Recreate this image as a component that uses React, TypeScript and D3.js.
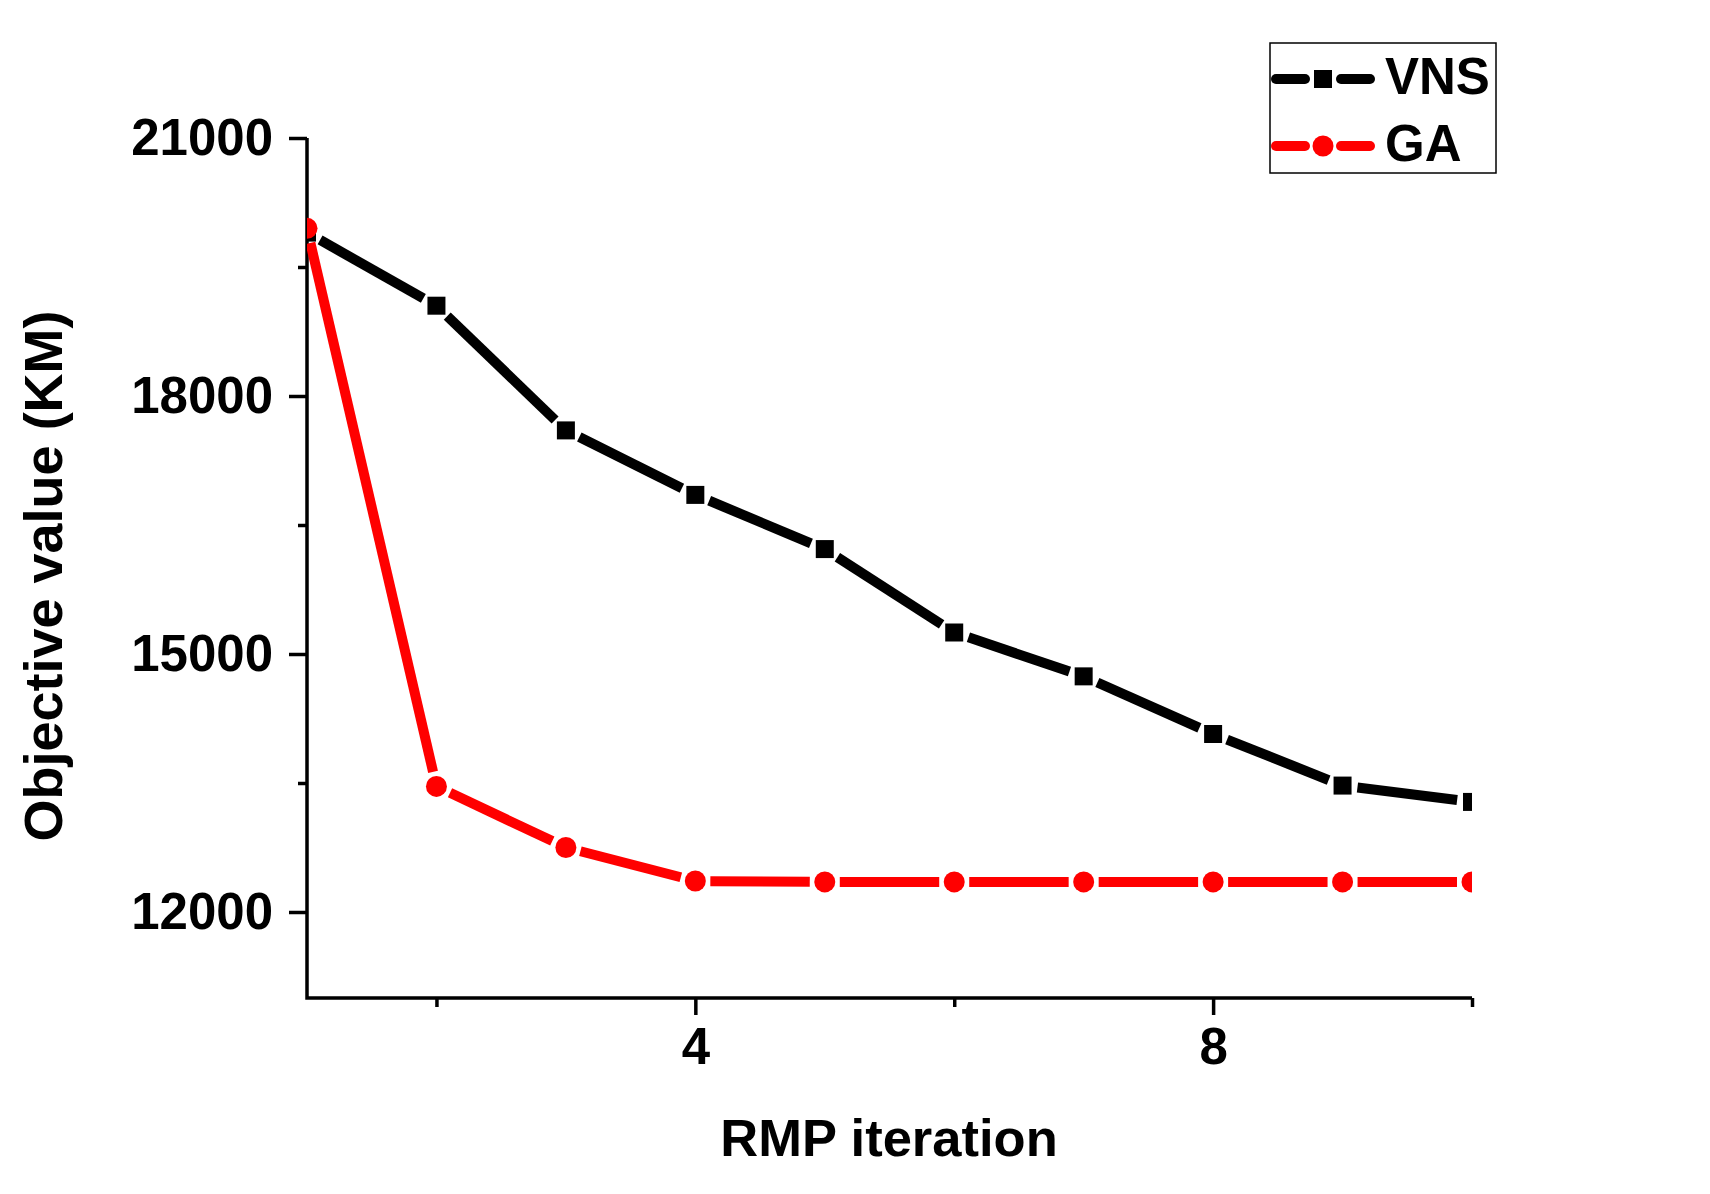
import React, { useEffect, useRef } from "react";
import * as d3 from "d3";

const iterations = [1, 2, 3, 4, 5, 6, 7, 8, 9, 10];
const vnsValues = [19900, 19050, 17600, 16850, 16220, 15250, 14740, 14070, 13470, 13280];
const gaValues = [19950, 13460, 12750, 12360, 12350, 12350, 12350, 12350, 12350, 12350];

const yMajorTicks = [12000, 15000, 18000, 21000];
const yMinorTicks = [13500, 16500, 19500];
const xMajorTicks = [4, 8];
const xMinorTicks = [2, 6, 10];

const seriesNames = ["VNS", "GA"];

const App = () => {
  const width = 1710;
  const height = 1194;
  const svgRef = useRef(null);

  useEffect(() => {
    const svg = d3.select(svgRef.current);
    svg.selectAll("*").remove();

    const font = "Arial, 'Liberation Sans', sans-serif";

    const xScale = d3.scaleLinear().domain([1, 10]).range([307, 1472]);
    const yScale = d3.scaleLinear().domain([11000, 21000]).range([998, 138]);

    svg.append("rect").attr("width", width).attr("height", height).attr("fill", "white");

    // clip so the end markers are cut at the axes like the original
    svg.append("defs")
      .append("clipPath")
      .attr("id", "plotClip")
      .append("rect")
      .attr("x", xScale(1))
      .attr("y", 60)
      .attr("width", xScale(10) - xScale(1))
      .attr("height", yScale(11000) - 60);

    // y axis
    const yMajor = svg.append("g")
      .attr("transform", `translate(${xScale(1)},0)`)
      .call(d3.axisLeft(yScale).tickValues(yMajorTicks).tickSize(18).tickSizeOuter(0)
        .tickPadding(16).tickFormat(d3.format("d")));
    const yMinor = svg.append("g")
      .attr("transform", `translate(${xScale(1)},0)`)
      .call(d3.axisLeft(yScale).tickValues(yMinorTicks).tickSize(9).tickSizeOuter(0).tickFormat(() => ""));

    // x axis
    const xMajor = svg.append("g")
      .attr("transform", `translate(0,${yScale(11000)})`)
      .call(d3.axisBottom(xScale).tickValues(xMajorTicks).tickSize(17).tickSizeOuter(0).tickPadding(13));
    const xMinor = svg.append("g")
      .attr("transform", `translate(0,${yScale(11000)})`)
      .call(d3.axisBottom(xScale).tickValues(xMinorTicks).tickSize(9).tickSizeOuter(0).tickFormat(() => ""));

    [yMajor, yMinor, xMajor, xMinor].forEach((g) => {
      g.select(".domain").remove();
      g.selectAll("line").attr("stroke", "black").attr("stroke-width", 3.5);
      g.selectAll("text")
        .attr("fill", "black")
        .style("font-family", font)
        .style("font-weight", "bold")
        .style("font-size", "51px");
    });

    svg.append("path")
      .attr("d", `M${xScale(1)},${yScale(21000)}V${yScale(11000)}H${xScale(10)}`)
      .attr("fill", "none")
      .attr("stroke", "black")
      .attr("stroke-width", 3.5);

    // series
    const series = [
      { name: seriesNames[0], values: vnsValues, color: "black", symbol: d3.symbolSquare, size: 18 * 18 },
      { name: seriesNames[1], values: gaValues, color: "red", symbol: d3.symbolCircle, size: Math.PI * 10.5 * 10.5 },
    ];
    const gap = 15;

    const plot = svg.append("g").attr("clip-path", "url(#plotClip)");

    series.forEach((s) => {
      const pts = iterations.map((it, i) => [xScale(it), yScale(s.values[i])]);
      const segs = d3.pairs(pts).map(([a, b]) => {
        const dx = b[0] - a[0];
        const dy = b[1] - a[1];
        const len = Math.hypot(dx, dy);
        const ux = dx / len;
        const uy = dy / len;
        return [a[0] + ux * gap, a[1] + uy * gap, b[0] - ux * gap, b[1] - uy * gap];
      });
      plot.append("g")
        .selectAll("line")
        .data(segs)
        .join("line")
        .attr("x1", (d) => d[0])
        .attr("y1", (d) => d[1])
        .attr("x2", (d) => d[2])
        .attr("y2", (d) => d[3])
        .attr("stroke", s.color)
        .attr("stroke-width", 10)
        .attr("stroke-linecap", "butt");
      plot.append("g")
        .selectAll("path")
        .data(pts)
        .join("path")
        .attr("transform", (d) => `translate(${d[0]},${d[1]})`)
        .attr("d", d3.symbol().type(s.symbol).size(s.size))
        .attr("fill", s.color);
    });

    // axis titles
    svg.append("text")
      .attr("x", 889)
      .attr("y", 1156)
      .attr("text-anchor", "middle")
      .style("font-family", font)
      .style("font-weight", "bold")
      .style("font-size", "52.5px")
      .text("RMP iteration");

    svg.append("text")
      .attr("transform", "translate(62,576) rotate(-90)")
      .attr("text-anchor", "middle")
      .style("font-family", font)
      .style("font-weight", "bold")
      .style("font-size", "54px")
      .text("Objective value (KM)");

    // legend
    const legend = svg.append("g");
    legend.append("rect")
      .attr("x", 1270)
      .attr("y", 43)
      .attr("width", 226)
      .attr("height", 130)
      .attr("fill", "white")
      .attr("stroke", "black")
      .attr("stroke-width", 1.5);

    const legendY = d3.scalePoint().domain(seriesNames).range([79, 146]);
    series.forEach((s) => {
      const ly = legendY(s.name);
      const cx = 1323;
      const item = legend.append("g");
      [[1276, cx - gap - 3], [cx + gap + 3, 1370]].forEach(([a, b]) => {
        item.append("line")
          .attr("x1", a)
          .attr("x2", b)
          .attr("y1", ly)
          .attr("y2", ly)
          .attr("stroke", s.color)
          .attr("stroke-width", 10)
          .attr("stroke-linecap", "round");
      });
      item.append("path")
        .attr("transform", `translate(${cx},${ly})`)
        .attr("d", d3.symbol().type(s.symbol).size(s.size))
        .attr("fill", s.color);
      item.append("text")
        .attr("x", 1385)
        .attr("y", ly + 15)
        .style("font-family", font)
        .style("font-weight", "bold")
        .style("font-size", "51px")
        .text(s.name);
    });
  }, []);

  return (
    <svg
      ref={svgRef}
      width={width}
      height={height}
      viewBox={`0 0 ${width} ${height}`}
      style={{ position: "absolute", left: 0, top: 0, display: "block" }}
    ></svg>
  );
};

export default App;
